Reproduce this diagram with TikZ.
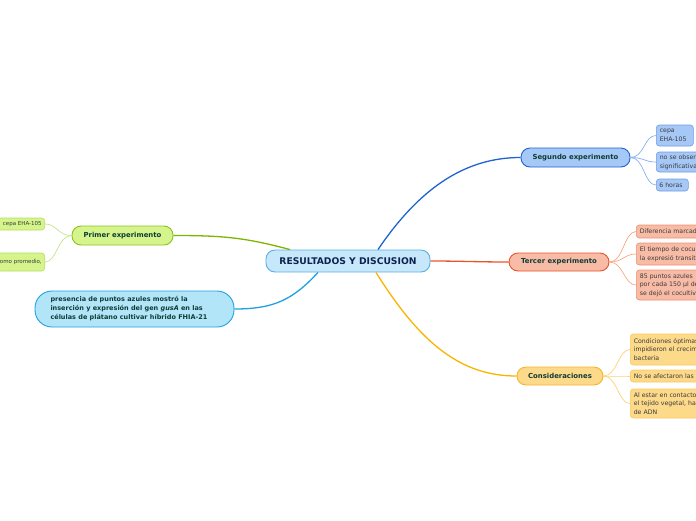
\documentclass[tikz,border=0pt]{standalone}
\usepackage{fontspec}
\setmainfont{DejaVu Sans}
\begin{document}
\begin{tikzpicture}[x=1pt,y=-1pt]
\definecolor{cenF}{HTML}{C6E8FA}\definecolor{cenD}{HTML}{5AAEE6}\definecolor{cenT}{HTML}{0B2350}
\definecolor{segF}{HTML}{A6C8F7}\definecolor{segD}{HTML}{1F63CF}\definecolor{segC}{HTML}{6E9AE6}\definecolor{segL}{HTML}{8AB0EE}
\definecolor{terF}{HTML}{F8BBA6}\definecolor{terD}{HTML}{E8542A}\definecolor{terC}{HTML}{F0906C}\definecolor{terL}{HTML}{F6A888}
\definecolor{conF}{HTML}{FDD98A}\definecolor{conD}{HTML}{F2B52A}\definecolor{conL0}{HTML}{F9B400}\definecolor{conC}{HTML}{F8C858}\definecolor{conL}{HTML}{FBD27A}
\definecolor{priF}{HTML}{D5F58C}\definecolor{priD}{HTML}{8CC21F}\definecolor{priL0}{HTML}{80B400}\definecolor{priC}{HTML}{B6DE66}\definecolor{priL}{HTML}{C4E48A}
\definecolor{bluF}{HTML}{B3E5F9}\definecolor{bluD}{HTML}{1EA2E0}
\definecolor{titT}{HTML}{0E3B36}\definecolor{chT}{HTML}{3A3A3A}
\tikzset{
  mainbox/.style={rounded corners=9pt, line width=0.9pt, inner sep=0pt, text=titT,
    font=\fontsize{6.9}{8}\selectfont\bfseries},
  childbox/.style={rounded corners=3pt, line width=0.6pt, inner xsep=3.5pt, inner ysep=0pt, text=chT,
    font=\fontsize{6.2}{8.6}\selectfont, align=left, anchor=west},
  mainline/.style={line width=1.3pt},
  childline/.style={line width=0.7pt},
}
\useasboundingbox (0,0) rectangle (696,520);
\clip (0,0) rectangle (696,520);
% central
\node[mainbox, fill=cenF, draw=cenD, text=cenT, minimum width=164pt, minimum height=22pt,
  font=\fontsize{9.2}{10}\selectfont\bfseries] (c) at (348,261) {RESULTADOS Y DISCUSION};
% main branches
\node[mainbox, fill=segF, draw=segD, minimum width=109pt, minimum height=19pt] (s) at (575.5,157.5) {Segundo experimento};
\node[mainbox, fill=terF, draw=terD, minimum width=100pt, minimum height=18pt] (t) at (559,262) {Tercer experimento};
\node[mainbox, fill=conF, draw=conD, minimum width=86pt, minimum height=18pt] (k) at (560,376) {Consideraciones};
\node[mainbox, fill=priF, draw=priD, minimum width=101pt, minimum height=19pt] (p) at (122.5,235.5) {Primer experimento};
\node[mainbox, fill=bluF, draw=bluD, rounded corners=17pt, minimum width=199pt, minimum height=36pt,
  font=\fontsize{6.5}{9}\selectfont\bfseries, align=left] (b) at (134.5,309)
  {\parbox{168pt}{presencia de puntos azules mostró la\\inserción y expresión del gen \textit{gusA} en las\\células de plátano cultivar híbrido FHIA-21}};
% connectors main
\draw[mainline, segD] ([xshift=30pt]c.north) .. controls +(42,-62) and +(-55,0) .. (s.west);
\draw[mainline, terD] (c.east) .. controls +(30,0) and +(-30,0) .. (t.west);
\draw[mainline, conL0] ([xshift=28pt]c.south) .. controls +(45,72) and +(-55,0) .. (k.west);
\draw[mainline, priL0] ([xshift=-58pt]c.north) .. controls +(-45,-12) and +(50,0) .. (p.east);
\draw[mainline, bluD] ([xshift=-30pt]c.south) .. controls +(-25,27) and +(40,0) .. (b.east);
% segundo children
\node[childbox, fill=segF, draw=segC, text width=30pt, minimum height=21pt] (s1) at (656,135.5) {cepa\\EHA-105};
\node[childbox, fill=segF, draw=segC, text width=80pt, minimum height=20pt] (s2) at (656,162) {no se observó\\significativas};
\node[childbox, fill=segF, draw=segC, text width=26pt, inner xsep=3pt, minimum height=12pt] (s3) at (656,185) {6 horas};
\foreach \n in {s1,s2,s3} \draw[childline, segL] (s.east) .. controls +(14,0) and +(-12,0) .. (\n.west);
% tercer children
\node[childbox, fill=terF, draw=terC, text width=90pt, minimum height=13pt] (t1) at (636,231.5) {Diferencia marcada};
\node[childbox, fill=terF, draw=terC, text width=90pt, minimum height=22pt] (t2) at (636,254) {El tiempo de cocultivo\\la expresió transitoria};
\node[childbox, fill=terF, draw=terC, text width=90pt, minimum height=30pt] (t3) at (636,285) {85 puntos azules\\por cada 150 µl de\\se dejó el cocultivo};
\foreach \n in {t1,t2,t3} \draw[childline, terL] (t.east) .. controls +(14,0) and +(-12,0) .. (\n.west);
% consideraciones children
\node[childbox, fill=conF, draw=conC, text width=90pt, minimum height=31pt] (k1) at (630,349.5) {Condiciones óptimas\\impidieron el crecimiento\\bacteria};
\node[childbox, fill=conF, draw=conC, text width=90pt, minimum height=12pt] (k2) at (630,376) {No se afectaron las};
\node[childbox, fill=conF, draw=conC, text width=90pt, minimum height=29pt] (k3) at (630,403.5) {Al estar en contacto\\el tejido vegetal, hay\\de ADN};
\foreach \n in {k1,k2,k3} \draw[childline, conL] (k.east) .. controls +(14,0) and +(-12,0) .. (\n.west);
% primer children
\node[childbox, anchor=east, fill=priF, draw=priC, text width=60pt, inner xsep=3pt, minimum height=12pt, align=right,
  font=\fontsize{5.5}{6}\selectfont] (p1) at (45,224) {cepa EHA-105};
\node[childbox, anchor=east, fill=priF, draw=priC, text width=60pt, inner xsep=3pt, minimum height=18pt, align=right,
  font=\fontsize{5.5}{6}\selectfont] (p2) at (45,262) {como promedio,};
\foreach \n in {p1,p2} \draw[childline, priL] (p.west) .. controls +(-14,0) and +(12,0) .. (\n.east);
\end{tikzpicture}
\end{document}
